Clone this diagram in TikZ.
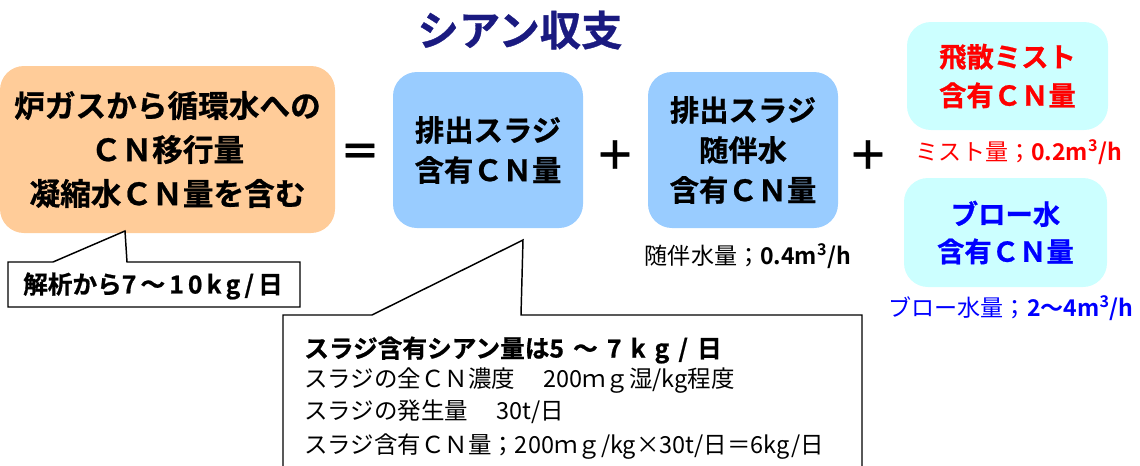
\documentclass[tikz,border=0pt]{standalone}
\usepackage{fontspec}
\setmainfont{Noto Sans CJK JP}[BoldFont={* Bold}]
\newfontfamily\heavy{Noto Sans CJK JP Bold}[FakeBold=0.8]
\definecolor{orangebox}{HTML}{FFCC99}
\definecolor{bluebox}{HTML}{99CCFF}
\definecolor{cyanbox}{HTML}{CCFFFF}
\definecolor{navy}{HTML}{1A1A80}
\definecolor{redtxt}{HTML}{FF0000}
\definecolor{bluetxt}{HTML}{0000FF}
\newcommand{\gp}{\hspace{0.37em}}
\tikzset{
  rbox/.style={rounded corners=18pt, inner sep=0pt, align=center, font=\fontsize{22}{30}\selectfont\heavy},
  callout/.style={draw=black, line width=1.1pt, fill=white},
  optext/.style={font=\fontsize{30}{30}\selectfont\heavy},
  sublabel/.style={font=\fontsize{17.3}{19}\selectfont, inner sep=0pt},
  ctext/.style={anchor=west, inner sep=0pt, font=\fontsize{17.6}{20}\selectfont}
}
\begin{document}
\begin{tikzpicture}[x=0.75pt,y=-0.75pt]
\useasboundingbox (0,0) rectangle (1140,465);
\clip (0,0) rectangle (1140,465);
% title
\node[font=\fontsize{31}{34}\selectfont\heavy, text=navy] (title) at (520,30) {シアン収支};
% main boxes
\node[rbox, fill=orangebox, minimum width=251.25pt, minimum height=125.25pt, font=\fontsize{23}{33}\selectfont\heavy] (furnace) at (167.5,149.5) {炉ガスから循環水への\\ＣＮ移行量\\凝縮水ＣＮ量を含む};
\node[optext] (eq) at (360,155) {＝};
\node[rbox, fill=bluebox, minimum width=142.5pt, minimum height=117pt] (sludge) at (488,150) {排出スラジ\\含有ＣＮ量};
\node[optext] (plus1) at (615,155) {＋};
\node[rbox, fill=bluebox, minimum width=142.5pt, minimum height=117pt] (sludgew) at (743,150) {排出スラジ\\随伴水\\含有ＣＮ量};
\node[optext] (plus2) at (868,155) {＋};
\node[rbox, fill=cyanbox, minimum width=150.75pt, minimum height=81pt, text=redtxt, font=\fontsize{20.5}{29}\selectfont\heavy] (mist) at (1007.5,76) {飛散ミスト\\含有ＣＮ量};
\node[rbox, fill=cyanbox, minimum width=152.25pt, minimum height=81.75pt, text=bluetxt, font=\fontsize{20.5}{28}\selectfont\heavy] (blow) at (1005.5,232.5) {ブロー水\\含有ＣＮ量};
% sub labels
\node[sublabel] (lblw) at (748,256) {随伴水量；\textbf{0.4m\textsuperscript{3}/h}};
\node[sublabel, text=redtxt] (lmist) at (1019,152) {ミスト量；\textbf{0.2m\textsuperscript{3}/h}};
\node[sublabel, text=bluetxt] (lblow) at (1011,308) {ブロー水量；\textbf{2～4m\textsuperscript{3}/h}};
% callout 1
\coordinate (c1tip) at (125,231);
\draw[callout] (8,262) -- (53,262) -- (c1tip) -- (127,262) -- (300,262) -- (300,307) -- (8,307) -- cycle;
\node[font=\fontsize{18.5}{20}\selectfont\heavy, inner sep=0pt] (c1text) at (153,286) {解析から7\,～\,1\,0\,k\,g\,/\,日};
% callout 2
\coordinate (c2tip) at (523,240);
\draw[callout] (283,315) -- (372,315) -- (c2tip) -- (521,315) -- (862,315) -- (862,475) -- (283,475) -- cycle;
\node[ctext, font=\fontsize{18.5}{20}\selectfont\heavy] (l1) at (304,350) {スラジ含有シアン量は5\gp～\gp7\gp k\gp g\gp /\gp 日};
\node[ctext] (l2) at (304,381) {スラジの全ＣＮ濃度\hspace{1.2em}200ｍｇ湿/kg程度};
\node[ctext] (l3) at (304,412) {スラジの発生量\hspace{1.2em}30t/日};
\node[ctext] (l4) at (304,447) {スラジ含有ＣＮ量；200ｍｇ/kg×30t/日＝6kg/日};
\end{tikzpicture}
\end{document}
